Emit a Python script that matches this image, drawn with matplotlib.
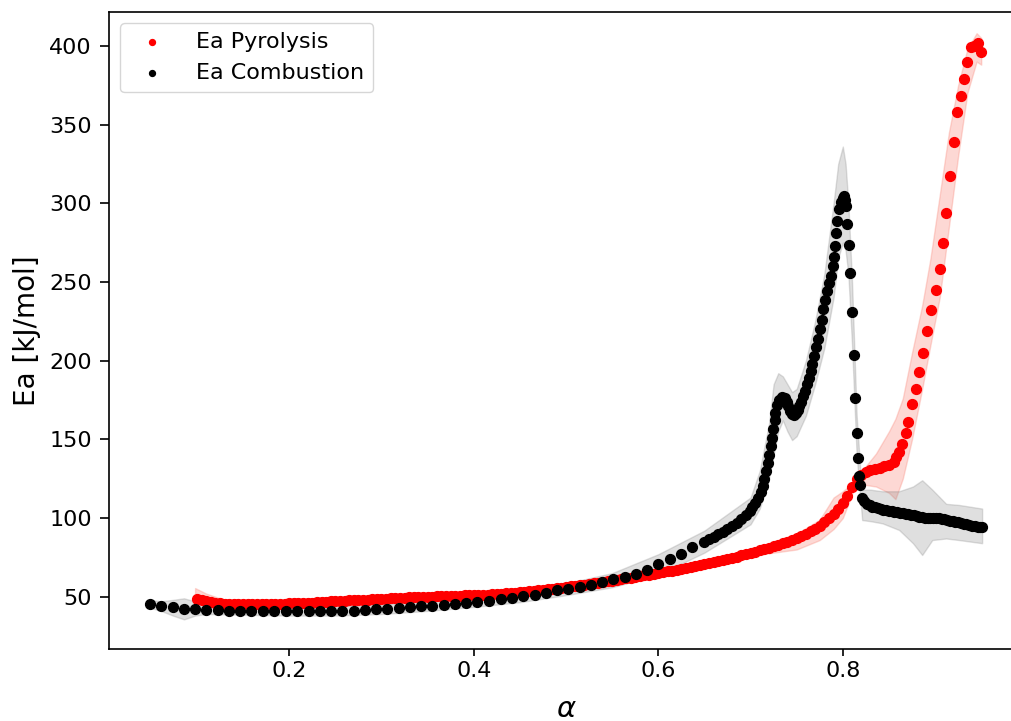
import numpy as np
import matplotlib.pyplot as plt

## Ea values
pyro_alpha = [
    0.100, 0.105, 0.110, 0.115, 0.120, 0.125, 0.130, 0.135, 0.140, 0.145,
    0.150, 0.155, 0.160, 0.165, 0.170, 0.175, 0.180, 0.185, 0.190, 0.195,
    0.200, 0.205, 0.210, 0.215, 0.220, 0.225, 0.230, 0.235, 0.240, 0.245,
    0.250, 0.255, 0.260, 0.265, 0.270, 0.275, 0.280, 0.285, 0.290, 0.295,
    0.300, 0.305, 0.310, 0.315, 0.320, 0.325, 0.330, 0.335, 0.340, 0.345,
    0.350, 0.355, 0.360, 0.365, 0.370, 0.375, 0.380, 0.385, 0.390, 0.395,
    0.400, 0.405, 0.410, 0.415, 0.420, 0.425, 0.430, 0.435, 0.440, 0.445,
    0.450, 0.455, 0.460, 0.465, 0.470, 0.475, 0.480, 0.485, 0.490, 0.495,
    0.500, 0.505, 0.510, 0.515, 0.520, 0.525, 0.530, 0.535, 0.540, 0.545,
    0.550, 0.555, 0.560, 0.565, 0.570, 0.575, 0.580, 0.585, 0.590, 0.595,
    0.600, 0.605, 0.610, 0.615, 0.620, 0.625, 0.630, 0.635, 0.640, 0.645,
    0.650, 0.655, 0.660, 0.665, 0.670, 0.675, 0.680, 0.685, 0.690, 0.695,
    0.700, 0.705, 0.710, 0.715, 0.720, 0.725, 0.730, 0.735, 0.740, 0.745,
    0.750, 0.755, 0.760, 0.765, 0.770, 0.775, 0.780, 0.785, 0.790, 0.795,
    0.800, 0.805, 0.810, 0.815, 0.820, 0.825, 0.830, 0.835, 0.840, 0.845,
    0.850, 0.855, 0.858, 0.861, 0.864, 0.868, 0.871, 0.875, 0.879, 0.883,
    0.887, 0.891, 0.896, 0.901, 0.905, 0.909, 0.912, 0.916, 0.920, 0.924,
    0.928, 0.931, 0.935, 0.939, 0.942, 0.947, 0.950,
]
pyro_ea = [
    48.8, 47.9, 47.1, 46.5, 46.1, 45.8, 45.6, 45.4, 45.3, 45.2,
    45.1, 45.1, 45.1, 45.1, 45.1, 45.2, 45.3, 45.4, 45.5, 45.6,
    45.7, 45.8, 45.9, 46.0, 46.2, 46.3, 46.5, 46.7, 46.9, 47.0,
    47.2, 47.4, 47.5, 47.7, 47.8, 47.9, 48.1, 48.2, 48.4, 48.5,
    48.7, 48.8, 49.0, 49.1, 49.3, 49.4, 49.6, 49.7, 49.8, 49.9,
    50.0, 50.1, 50.2, 50.3, 50.4, 50.5, 50.6, 50.7, 50.8, 50.9,
    51.0, 51.1, 51.3, 51.4, 51.6, 51.8, 52.0, 52.2, 52.4, 52.6,
    52.9, 53.1, 53.4, 53.7, 54.0, 54.3, 54.6, 55.0, 55.3, 55.7,
    56.1, 56.5, 56.9, 57.3, 57.7, 58.1, 58.5, 58.9, 59.3, 59.7,
    60.2, 60.6, 61.1, 61.6, 62.1, 62.6, 63.1, 63.6, 64.1, 64.6,
    65.1, 65.6, 66.1, 66.6, 67.2, 67.8, 68.4, 69.0, 69.6, 70.2,
    70.8, 71.4, 72.0, 72.6, 73.3, 74.0, 74.7, 75.5, 76.3, 77.1,
    77.9, 78.7, 79.5, 80.3, 81.2, 82.1, 83.0, 84.0, 85.0, 86.1,
    87.3, 88.6, 90.0, 91.6, 93.3, 95.2, 97.3, 99.7, 102.5, 105.8,
    109.5, 114.0, 119.5, 124.5, 127.5, 129.2, 130.3, 131.2, 132.0, 132.8,
    133.8, 135.8, 138.5, 142.0, 146.8, 153.8, 161.2, 172.2, 181.8, 193.0,
    205.0, 219.0, 232.0, 245.0, 258.0, 275.0, 294.0, 317.0, 339.0, 358.0,
    368.0, 379.0, 390.0, 399.0, 400.0, 402.0, 396.0,
]
pyro_band_alpha = [0.098, 0.110, 0.130, 0.150, 0.200, 0.300, 0.400, 0.500, 0.600, 0.650,
                   0.700, 0.750, 0.775, 0.790, 0.800, 0.810, 0.815, 0.825, 0.836, 0.850,
                   0.857, 0.865, 0.875, 0.886, 0.895, 0.905, 0.915, 0.925, 0.935, 0.945,
                   0.950]
pyro_band_lo = [47.0, 45.5, 44.5, 44.0, 44.5, 47.5, 50.0, 55.0, 63.5, 69.0,
                76.0, 80.0, 86.0, 93.0, 100.0, 115.0, 122.0, 121.0, 120.0, 116.0,
                112.0, 125.0, 150.0, 182.0, 210.0, 240.0, 285.0, 330.0, 370.0, 390.0,
                388.0]
pyro_band_hi = [55.5, 52.0, 48.0, 46.5, 47.0, 50.0, 52.0, 57.5, 66.5, 72.5,
                80.0, 90.0, 99.0, 113.0, 117.0, 122.0, 126.0, 133.0, 141.0, 155.0,
                163.0, 176.0, 205.0, 235.0, 265.0, 305.0, 345.0, 375.0, 398.0, 408.0,
                405.0]

comb_alpha = [
    0.049, 0.061, 0.074, 0.086, 0.098, 0.110, 0.123, 0.135, 0.147, 0.159,
    0.172, 0.184, 0.196, 0.208, 0.221, 0.233, 0.245, 0.257, 0.270, 0.282,
    0.294, 0.306, 0.319, 0.331, 0.343, 0.355, 0.368, 0.380, 0.392, 0.404,
    0.417, 0.429, 0.441, 0.453, 0.466, 0.478, 0.490, 0.502, 0.515, 0.527,
    0.539, 0.551, 0.564, 0.576, 0.588, 0.600, 0.613, 0.625, 0.637,
    0.650, 0.655, 0.660, 0.665, 0.670, 0.675, 0.680, 0.685, 0.690, 0.695,
    0.699, 0.702, 0.705, 0.708, 0.711, 0.713, 0.715, 0.717, 0.719, 0.720,
    0.722, 0.723, 0.724, 0.726, 0.727, 0.729, 0.731, 0.734, 0.737, 0.739,
    0.741, 0.743, 0.745, 0.747, 0.749, 0.751, 0.753, 0.755, 0.757, 0.759,
    0.761, 0.763, 0.765, 0.767, 0.769, 0.771, 0.773, 0.775, 0.777, 0.779,
    0.781, 0.783, 0.785, 0.787, 0.789, 0.790, 0.791, 0.793, 0.794, 0.796,
    0.798, 0.800, 0.801, 0.802, 0.803, 0.805, 0.807, 0.808, 0.810, 0.812,
    0.813, 0.815, 0.816, 0.818, 0.819, 0.821,
    0.823, 0.826, 0.829, 0.832, 0.835, 0.838, 0.841, 0.844, 0.847, 0.850,
    0.853, 0.856, 0.859, 0.862, 0.865, 0.868, 0.871, 0.874, 0.877, 0.880,
    0.883, 0.886, 0.889, 0.892, 0.895, 0.898, 0.901, 0.904, 0.907, 0.910,
    0.913, 0.916, 0.919, 0.922, 0.925, 0.928, 0.931, 0.934, 0.937, 0.940,
    0.943, 0.946, 0.949, 0.951,
]
comb_ea = [
    45.4, 44.3, 43.3, 42.4, 42.0, 41.6, 41.3, 41.1, 41.0, 40.9,
    40.8, 40.7, 40.7, 40.7, 40.7, 40.8, 40.9, 41.0, 41.2, 41.5,
    41.9, 42.4, 43.0, 43.3, 43.9, 44.3, 44.9, 45.4, 46.0, 46.6,
    47.5, 48.3, 49.2, 50.2, 51.3, 52.6, 54.1, 55.1, 56.4, 57.6,
    59.1, 61.0, 62.7, 64.6, 66.8, 71.0, 74.0, 77.0, 81.5,
    85.0, 86.5, 88.0, 89.6, 91.3, 93.1, 95.0, 97.0, 99.2, 101.6,
    104.2, 106.8, 109.6, 112.8, 116.5, 120.5, 125.0, 130.0, 135.0, 140.0,
    145.5, 151.0, 156.5, 162.0, 167.0, 171.5, 175.0, 177.0, 176.5, 174.0,
    171.0, 168.0, 166.0, 165.5, 166.5, 168.5, 171.0, 174.0, 177.5, 181.0,
    185.0, 189.0, 193.5, 198.0, 203.0, 208.5, 214.0, 220.0, 226.0, 232.5,
    238.5, 244.0, 249.0, 254.0, 260.0, 266.0, 273.0, 281.0, 289.0, 296.5,
    301.0, 303.5, 304.5, 302.0, 298.0, 287.0, 273.5, 255.5, 231.0, 203.5,
    176.0, 154.0, 138.0, 127.0, 121.0, 113.0,
    110.5, 109.0, 108.0, 107.3, 106.7, 106.2, 105.7, 105.3, 105.0, 104.7,
    104.4, 104.1, 103.8, 103.5, 103.2, 102.8, 102.4, 102.0, 101.6, 101.2,
    100.8, 100.5, 100.3, 100.2, 100.2, 100.2, 100.1, 99.9, 99.6, 99.2,
    98.8, 98.4, 98.0, 97.6, 97.2, 96.8, 96.4, 96.0, 95.6, 95.2,
    94.9, 94.6, 94.3, 94.1,
]
comb_band_alpha = [0.049, 0.061, 0.074, 0.086, 0.098, 0.110, 0.150, 0.200, 0.250, 0.300,
                   0.350, 0.400, 0.450, 0.500, 0.550, 0.600, 0.650, 0.700, 0.710, 0.720,
                   0.725, 0.730, 0.735, 0.740, 0.745, 0.750, 0.760, 0.770, 0.780, 0.790,
                   0.795, 0.800, 0.803, 0.806, 0.810, 0.815, 0.819, 0.821, 0.830, 0.843,
                   0.861, 0.876, 0.886, 0.897, 0.912, 0.926, 0.951]
comb_band_lo = [43.0, 41.0, 38.0, 35.6, 38.0, 39.0, 38.5, 38.0, 38.0, 39.0,
                41.0, 43.5, 46.5, 51.0, 56.0, 64.0, 78.0, 96.0, 106.0, 125.0,
                140.0, 155.0, 162.0, 155.0, 149.5, 152.0, 165.0, 185.0, 208.0, 240.0,
                265.0, 275.0, 270.0, 255.0, 210.0, 140.0, 112.0, 98.7, 98.0, 96.6,
                92.4, 84.0, 76.5, 86.0, 87.0, 86.0, 84.0]
comb_band_hi = [48.0, 47.0, 48.0, 49.0, 47.0, 45.0, 44.0, 43.5, 44.0, 45.0,
                47.5, 50.0, 53.5, 58.5, 65.0, 77.0, 92.0, 113.0, 130.0, 160.0,
                185.0, 192.0, 190.0, 185.0, 180.0, 182.0, 200.0, 225.0, 255.0, 300.0,
                325.0, 336.0, 325.0, 300.0, 250.0, 165.0, 130.0, 118.0, 118.0, 117.0,
                117.0, 120.0, 124.0, 118.0, 109.0, 108.3, 106.0]

##
fig = plt.figure(figsize=(10.12, 7.21), dpi=100)
ax = fig.add_axes([0.108, 0.0999, 0.9026, 0.8835])

ax.fill_between(pyro_band_alpha, pyro_band_lo, pyro_band_hi, color="salmon", alpha=0.3, zorder=1)
ax.fill_between(comb_band_alpha, comb_band_lo, comb_band_hi, color="grey", alpha=0.25, zorder=1)
ax.scatter(pyro_alpha, pyro_ea, s=50, color="red", label="Ea Pyrolysis", zorder=2)
ax.scatter(comb_alpha, comb_ea, s=50, color="black", label="Ea Combustion", zorder=3)

ax.set_xlim(0.005, 0.995)
ax.set_ylim(16.8, 421.5)
ax.set_xticks([0.2, 0.4, 0.6, 0.8])
ax.set_yticks(np.arange(50, 401, 50))
ax.tick_params(labelsize=16, width=1.2)
ax.tick_params(axis="x", length=5, pad=3.5)
ax.tick_params(axis="y", length=6.5, pad=6)
for spine in ax.spines.values():
    spine.set_linewidth(1.2)
ax.set_xlabel(r"$\alpha$", fontsize=21, labelpad=10)
ax.set_ylabel("Ea [kJ/mol]", fontsize=20, labelpad=6)
ax.legend(loc="upper left", fontsize=16, markerscale=0.6, handletextpad=1.0)

plt.savefig("out.png", dpi=100)
